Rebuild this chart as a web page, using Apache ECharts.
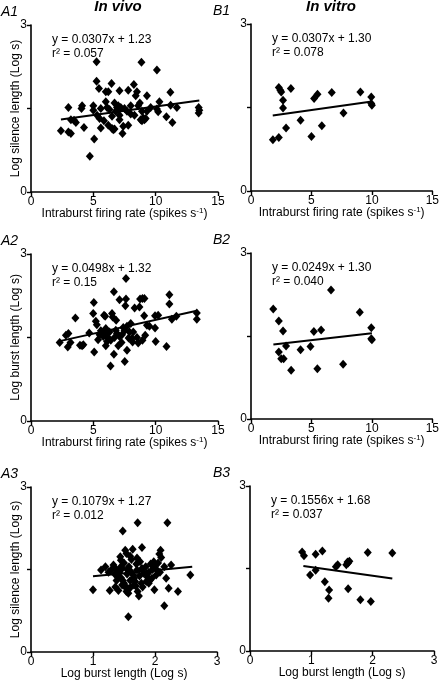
<!DOCTYPE html>
<html><head><meta charset="utf-8">
<script src="https://cdn.jsdelivr.net/npm/echarts@6/dist/echarts.min.js"></script>
<style>html,body{margin:0;padding:0;background:#fff}#c{width:442px;height:683px}</style>
</head><body><div id="c"></div>
<script>
// ---- data ----
const a1 = [[2.4,1.1],[3.0,1.52],[3.0,1.08],[3.2,1.05],[3.2,1.3],[3.45,1.29],[3.6,1.25],[4.05,1.5],[4.1,1.55],[4.25,1.16],[5.0,1.55],[5.0,1.47],[5.07,0.95],[4.72,0.64],[5.26,2.34],[5.26,1.99],[5.45,1.86],[5.3,1.38],[5.5,1.32],[5.6,1.15],[5.6,1.5],[5.85,1.28],[6.0,1.8],[6.2,1.8],[6.0,1.62],[6.1,1.52],[6.2,1.2],[6.3,1.48],[6.46,1.95],[6.5,1.36],[6.5,1.14],[6.6,1.12],[6.7,1.13],[6.7,1.6],[6.8,1.45],[6.9,1.52],[7.0,1.48],[7.0,1.55],[7.1,1.82],[7.1,1.38],[7.1,1.3],[7.2,1.52],[7.34,1.05],[7.4,1.18],[7.5,1.5],[7.7,1.45],[7.8,1.83],[7.8,1.2],[8.0,1.55],[8.0,1.4],[8.25,1.93],[8.3,1.38],[8.4,1.73],[8.5,1.8],[8.6,1.55],[8.73,1.6],[8.86,2.33],[8.8,1.3],[8.9,1.45],[8.9,1.28],[9.0,1.33],[9.1,1.3],[9.2,1.32],[9.3,1.73],[9.3,1.45],[9.6,1.52],[10.1,2.19],[10.1,1.49],[10.2,1.44],[10.3,1.62],[10.86,1.35],[11.18,1.79],[11.2,1.56],[11.34,1.25],[11.7,1.52],[13.45,1.52],[13.45,1.42],[13.5,1.47]];
const b1 = [[1.81,0.92],[2.3,0.96],[2.3,1.86],[2.43,1.81],[2.5,1.78],[2.65,1.63],[2.65,1.49],[2.9,1.13],[3.3,1.84],[4.1,1.27],[5.0,0.98],[5.22,1.66],[5.5,1.74],[5.86,1.17],[6.68,1.77],[7.65,1.40],[9.05,1.78],[9.95,1.69],[9.95,1.57],[10.0,1.54]];
const a2 = [[2.3,1.41],[2.8,1.54],[3.0,1.57],[2.95,1.33],[3.17,1.41],[3.56,1.85],[3.93,1.36],[4.1,1.35],[4.2,1.37],[4.67,1.58],[5.04,2.13],[4.99,1.93],[5.07,1.24],[5.2,1.79],[5.28,1.73],[5.38,1.46],[5.6,1.62],[5.7,1.57],[5.8,1.52],[5.86,1.9],[5.95,1.88],[6.0,1.66],[6.05,1.57],[6.1,1.43],[6.15,1.5],[6.0,1.35],[6.5,1.93],[6.55,1.87],[6.65,2.32],[6.65,1.2],[6.38,0.99],[6.83,1.81],[6.8,1.63],[6.9,1.57],[6.7,1.5],[7.1,2.18],[7.1,1.52],[7.26,1.41],[7.4,1.68],[7.5,1.62],[7.57,2.07],[7.62,2.56],[7.62,2.19],[7.7,1.7],[7.52,1.07],[7.7,1.27],[7.83,1.49],[8.1,1.48],[8.15,1.42],[8.2,1.6],[8.31,2.03],[8.5,1.5],[8.7,2.05],[8.75,2.19],[8.94,2.2],[8.94,1.45],[9.1,2.2],[9.08,1.89],[9.16,1.54],[9.3,1.72],[9.95,1.89],[10.2,1.9],[9.95,1.67],[10.0,1.43],[10.87,1.34],[11.1,2.27],[11.1,2.1],[11.3,1.83],[11.66,1.88],[13.3,1.94],[13.3,1.83],[5.5,1.55],[6.3,1.6],[6.4,1.45],[7.0,1.35],[7.3,1.55],[7.9,1.6],[8.0,1.75],[8.6,1.4],[9.5,1.7]];
const b2 = [[1.84,1.99],[2.3,1.77],[2.65,1.59],[2.3,1.21],[2.5,1.09],[2.7,1.09],[2.9,1.32],[3.32,0.88],[4.1,1.25],[4.92,1.31],[5.2,1.58],[5.49,0.91],[5.8,1.61],[6.62,2.33],[7.62,0.99],[9.0,1.93],[9.95,1.65],[9.95,1.45],[10.0,1.43]];
const a3 = [[1.0,1.13],[1.13,1.49],[1.27,1.12],[1.33,1.58],[1.36,1.52],[1.36,1.18],[1.41,1.12],[1.44,1.73],[1.45,1.67],[1.45,1.55],[1.47,1.52],[1.48,2.2],[1.48,1.3],[1.5,1.25],[1.52,1.85],[1.54,1.79],[1.55,1.5],[1.55,1.42],[1.52,1.18],[1.56,1.16],[1.54,1.1],[1.57,1.07],[1.57,0.64],[1.6,1.74],[1.62,1.68],[1.64,1.87],[1.65,1.4],[1.66,1.34],[1.68,1.28],[1.66,1.22],[1.69,1.2],[1.71,1.71],[1.72,2.35],[1.71,1.49],[1.72,1.1],[1.74,1.02],[1.79,1.9],[1.76,1.64],[1.79,1.52],[1.82,1.43],[1.87,1.42],[1.9,1.45],[1.86,1.28],[1.92,1.31],[1.95,1.34],[1.99,1.13],[1.98,1.64],[2.0,1.58],[2.03,1.49],[2.07,1.78],[2.09,1.85],[2.08,1.45],[2.1,1.72],[2.15,1.55],[2.18,1.34],[2.2,2.35],[2.22,1.16],[2.15,0.84],[2.26,1.58],[2.37,1.1],[2.57,1.4],[1.3,1.5],[1.35,1.42],[1.4,1.38],[1.42,1.45],[1.45,1.35],[1.5,1.62],[1.58,1.55],[1.6,1.3],[1.62,1.45],[1.7,1.6],[1.75,1.38],[1.78,1.25],[1.85,1.55],[1.88,1.36],[1.93,1.6],[1.96,1.5],[2.02,1.4],[2.05,1.62],[1.2,1.55],[1.25,1.45],[1.38,1.3],[1.47,1.22],[1.6,1.17],[1.8,1.18],[1.9,1.25]];
const b3 = [[0.85,1.8],[0.88,1.73],[0.98,1.38],[1.07,1.47],[1.07,1.76],[1.18,1.82],[1.22,1.26],[1.29,1.11],[1.28,0.96],[1.4,1.53],[1.43,1.57],[1.57,1.57],[1.59,1.62],[1.62,1.63],[1.6,1.6],[1.6,1.13],[1.8,0.93],[1.92,1.79],[1.97,0.9],[2.32,1.78]];

const slopes     = [0.0307, 0.0307, 0.0498, 0.0249, 0.1079, -0.1556];
const intercepts = [1.23, 1.30, 1.32, 1.30, 1.27, 1.68];
const fitFrom    = [2.4, 1.8, 2.3, 1.85, 1.0, 0.87];
const fitTo      = [13.5, 10.0, 13.3, 10.0, 2.6, 2.32];
const eqLabels   = ['y = 0.0307x + 1.23','y = 0.0307x + 1.30','y = 0.0498x + 1.32','y = 0.0249x + 1.30','y = 0.1079x + 1.27','y = 0.1556x + 1.68'];
const r2Labels   = ['r\u00b2 = 0.057','r\u00b2 = 0.078','r\u00b2 = 0.15','r\u00b2 = 0.040','r\u00b2 = 0.012','r\u00b2 = 0.037'];
const panelLabels = ['A1','B1','A2','B2','A3','B3'];
const columnTitles = ['In vivo','In vitro'];
const xMaxes     = [15, 15, 15, 15, 3, 3];
const xIntervals = [5, 5, 5, 5, 1, 1];
const yLabelShown = [0, 3];
const yNames = ['Log silence length (Log s)', '', 'Log burst length (Log s)', '', 'Log silence length (Log s)', ''];
const rateName = '{n|Intraburst firing rate (spikes s}{s|-1}{n|)}';
const burstName = '{n|Log burst length (Log s)}';
const xNames = [rateName, rateName, rateName, rateName, burstName, burstName];
const panelData = [a1, b1, a2, b2, a3, b3];

// ---- layout ----
const FONT = '"Liberation Sans", Arial, sans-serif';
const grids = [
  {left:31, top:25, width:187, height:167},
  {left:251, top:24, width:185, height:167},
  {left:31, top:254, width:187, height:167},
  {left:251, top:253, width:185, height:166},
  {left:31, top:487, width:186, height:165},
  {left:250, top:486, width:184, height:165}
];
const axisLine = {lineStyle:{color:'#000', width:1.6}};
const axisTick = {show:true, length:4, inside:false, lineStyle:{color:'#000', width:1.4}};

const xAxes = [], yAxes = [], series = [], graphics = [];
grids.forEach((g, i) => {
  xAxes.push({
    gridIndex:i, type:'value', min:0, max:xMaxes[i], interval:xIntervals[i],
    axisLine, axisTick, splitLine:{show:false},
    axisLabel:{color:'#000', fontSize:12, fontFamily:FONT, margin:4},
    name:xNames[i], nameLocation:'middle', nameGap:15, nameMoveOverlap:false,
    nameTextStyle:{rich:{
      n:{fontSize:12, fontFamily:FONT, color:'#000', lineHeight:14},
      s:{fontSize:8, fontFamily:FONT, color:'#000', verticalAlign:'top', lineHeight:9}
    }}
  });
  yAxes.push({
    gridIndex:i, type:'value', min:0, max:3, interval:1.5,
    axisLine, axisTick, splitLine:{show:false},
    axisLabel:{color:'#000', fontSize:12, fontFamily:FONT, margin:4,
      formatter: v => yLabelShown.includes(v) ? String(v) : ''},
    name:yNames[i], nameLocation:'middle', nameGap:9, nameMoveOverlap:false,
    nameTextStyle:{color:'#000', fontSize:12, fontFamily:FONT}
  });
  series.push({
    type:'scatter', xAxisIndex:i, yAxisIndex:i, data:panelData[i],
    symbol:'diamond', symbolSize:[8,9], itemStyle:{color:'#000', opacity:1}, silent:true, z:3
  });
  const x0 = fitFrom[i], x1 = fitTo[i];
  series.push({
    type:'line', xAxisIndex:i, yAxisIndex:i,
    data:[[x0, slopes[i]*x0 + intercepts[i]], [x1, slopes[i]*x1 + intercepts[i]]],
    symbol:'none', lineStyle:{color:'#000', width:2}, silent:true, z:4
  });
  graphics.push({type:'text', left:g.left + 21, top:g.top + 8,
    style:{text:eqLabels[i] + '\n' + r2Labels[i], font:'12px ' + FONT, fill:'#000', lineHeight:14}});
  graphics.push({type:'text', left: i % 2 === 0 ? 1 : 213, top:g.top - 20,
    style:{text:panelLabels[i], font:'italic 14px ' + FONT, fill:'#000'}});
});
graphics.push({type:'text', x:118, y:7, style:{text:columnTitles[0], font:'italic bold 15px ' + FONT, fill:'#000', align:'center', verticalAlign:'middle'}});
graphics.push({type:'text', x:331, y:7, style:{text:columnTitles[1], font:'italic bold 15px ' + FONT, fill:'#000', align:'center', verticalAlign:'middle'}});

const chart = echarts.init(document.getElementById('c'), null, {renderer:'canvas'});
chart.setOption({
  animation:false,
  backgroundColor:'#fff',
  grid: grids.map(g => Object.assign({containLabel:false}, g)),
  xAxis: xAxes, yAxis: yAxes, series, graphic: graphics
});
</script></body></html>
